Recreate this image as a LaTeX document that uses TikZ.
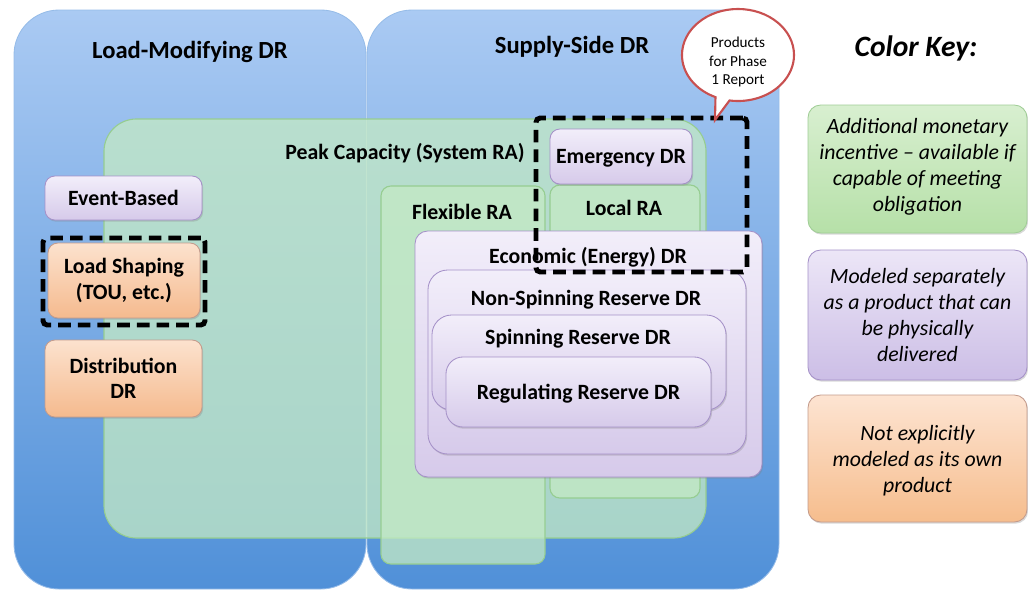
\documentclass[tikz,border=0pt]{standalone}
\usepackage{fontspec}
\setmainfont{Carlito}
\usetikzlibrary{fit,shadows,shapes.callouts}

\definecolor{bluetop}{RGB}{170,202,243}
\definecolor{bluebot}{RGB}{80,144,216}
\definecolor{rafill}{RGB}{196,234,196}
\definecolor{raline}{RGB}{150,205,145}
\definecolor{prtop}{RGB}{242,238,250}
\definecolor{prbot}{RGB}{214,202,234}
\definecolor{prline}{RGB}{165,145,200}
\definecolor{ortop}{RGB}{252,226,206}
\definecolor{orbot}{RGB}{245,186,142}
\definecolor{orline}{RGB}{195,155,140}
\definecolor{kgtop}{RGB}{216,239,208}
\definecolor{kgbot}{RGB}{182,224,168}
\definecolor{kgline}{RGB}{160,205,150}
\definecolor{kptop}{RGB}{236,230,247}
\definecolor{kpbot}{RGB}{204,190,230}
\definecolor{kotop}{RGB}{253,228,210}
\definecolor{kobot}{RGB}{246,189,141}
\definecolor{bubbleline}{RGB}{200,80,80}

\newcommand{\titlefont}{\bfseries\fontsize{17.5}{21}\selectfont}
\newcommand{\boxfont}{\bfseries\fontsize{15.5}{18}\selectfont}
\newcommand{\keyfont}{\itshape\fontsize{15.5}{18.3}\selectfont}

\tikzset{
  drarea/.style={rounded corners=32pt, top color=bluetop, bottom color=bluebot,
    draw=bluebot!60!white, line width=0.6pt},
  areatitle/.style={font=\titlefont},
  ragreen/.style={rounded corners=7pt, fill=rafill, fill opacity=0.75,
    draw=raline, line width=0.8pt},
  boxlabel/.style={font=\boxfont, align=center},
  softshadow/.style={drop shadow={opacity=0.3, shadow xshift=0.8pt, shadow yshift=-1.2pt}},
  prbox/.style={rounded corners=7pt, top color=prtop, bottom color=prbot,
    draw=prline, line width=0.6pt, softshadow},
  orbox/.style={rounded corners=7pt, top color=ortop, bottom color=orbot,
    draw=orline, line width=0.6pt, softshadow},
  phase/.style={draw=black, line width=3.5pt, rounded corners=3pt,
    dash pattern=on 9pt off 5pt},
  keybox/.style={rounded corners=9pt, line width=0.6pt, softshadow},
  keytext/.style={font=\keyfont, align=center}
}

\begin{document}
\begin{tikzpicture}[x=0.025cm, y=-0.025cm, every node/.style={inner sep=0pt}]
\useasboundingbox (0,0) rectangle (1028,593);

% the two DR families
\node[drarea, fit={(14,10) (366,589)}] (loadmod) {};
\node[drarea, fit={(367,10) (779,589)}] (supply) {};
\node[areatitle] (loadmodtitle) at (190,52) {Load-Modifying DR};
\node[areatitle] (supplytitle) at (572,47) {Supply-Side DR};

% resource adequacy areas
\node[ragreen, rounded corners=23pt, fit={(104,119) (706,538)}] (peak) {};
\node[boxlabel] (peaklabel) at (405,153) {Peak Capacity (System RA)};
\node[ragreen, fit={(381,186) (545,564)}] (flex) {};
\node[boxlabel] (flexlabel) at (462,212) {Flexible RA};
\node[ragreen, fit={(550,185) (700,498)}] (localra) {};
\node[boxlabel] (locallabel) at (624,208) {Local RA};

% supply-side products
\node[prbox, fit={(550,129) (692,184)}] (emergency) {};
\node[boxlabel] (emergencylabel) at ([yshift=-1pt]emergency.center) {Emergency DR};
\node[prbox, rounded corners=9pt, fit={(415,231) (762,477)}] (economic) {};
\node[boxlabel] (economiclabel) at (588,257) {Economic (Energy) DR};
\node[prbox, rounded corners=14pt, fit={(428,270) (746,454)}] (nonspin) {};
\node[boxlabel] (nonspinlabel) at (586,300) {Non-Spinning Reserve DR};
\node[prbox, rounded corners=14pt, fit={(432,315) (726,410)}] (spin) {};
\node[boxlabel] (spinlabel) at (578,339) {Spinning Reserve DR};
\node[prbox, rounded corners=12pt, fit={(446,357) (711,427)}] (regulating) {};
\node[boxlabel] (regulatinglabel) at ([yshift=-1.5pt]regulating.center) {Regulating Reserve DR};

% load-modifying products
\node[prbox, fit={(45,176) (202,220)}] (event) {};
\node[boxlabel] (eventlabel) at (event.center) {Event-Based};
\node[orbox, fit={(48,243) (200,318)}] (shaping) {};
\node[boxlabel] (shapinglabel) at (shaping.center) {Load Shaping\\(TOU, etc.)};
\node[orbox, fit={(45,340) (202,417)}] (distribution) {};
\node[boxlabel] (distributionlabel) at (distribution.center) {Distribution\\DR};

% phase 1 scope
\node[phase, fit={(43,238) (205,325)}] (phaseleft) {};
\node[phase, fit={(536,118) (747,272)}] (phaseright) {};
\node[ellipse callout, draw=bubbleline, fill=white, line width=1.5pt,
  minimum width=2.8cm, minimum height=2.3cm,
  callout absolute pointer={(715,120)}] (bubble) at (738,55) {};
\node[font=\fontsize{10.8}{13.2}\selectfont, align=center] (bubbletext)
  at ([yshift=-5pt]bubble.center) {Products\\for Phase\\1 Report};

% colour key
\node[font=\bfseries\itshape\fontsize{21}{25}\selectfont] (keytitle) at (916,48) {Color Key:};
\node[keybox, top color=kgtop, bottom color=kgbot, draw=kgline,
  fit={(808,105) (1027,233)}] (keyra) {};
\node[keytext] (keyratext) at ([yshift=1.5pt]keyra.center)
  {Additional monetary\\incentive -- available if\\capable of meeting\\obligation};
\node[keybox, top color=kptop, bottom color=kpbot, draw=prline,
  fit={(808,250) (1027,380)}] (keyproduct) {};
\node[keytext] (keyproducttext) at (keyproduct.center)
  {Modeled separately\\as a product that can\\be physically\\delivered};
\node[keybox, top color=kotop, bottom color=kobot, draw=orline,
  fit={(808,395) (1027,522)}] (keyother) {};
\node[keytext] (keyothertext) at ([yshift=-1.5pt]keyother.center)
  {Not explicitly\\modeled as its own\\product};
\end{tikzpicture}
\end{document}
